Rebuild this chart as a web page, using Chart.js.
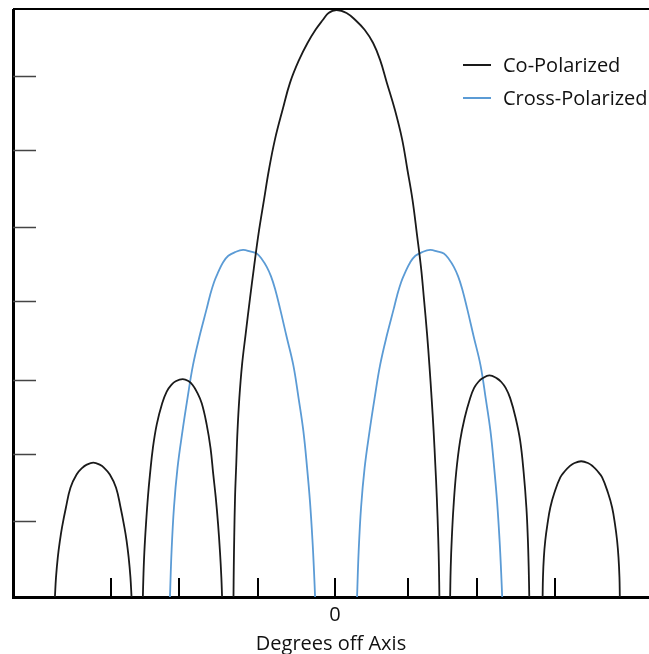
<!DOCTYPE html>
<html>
<head>
<meta charset="utf-8">
<script src="https://cdn.jsdelivr.net/npm/chart.js@4.4.1/dist/chart.umd.min.js"></script>
<style>
    body { margin: 0; background: #fff; }
    #wrap { position: relative; width: 649px; height: 654px; }
    #legend { position: absolute; left: 463px; top: 48px; font: 20px 'Open Sans', sans-serif; color: #111; }
    .legend-item { display: flex; align-items: center; height: 33px; white-space: nowrap; }
    .legend-swatch { width: 28px; height: 2px; margin-right: 12px; }
</style>
</head>
<body>
<div id="wrap">
    <canvas id="pattern-chart"></canvas>
    <div id="legend"></div>
</div>
<script>
// --- Data (degrees off axis, relative level), null = gap between lobes ---
const coDeg = [
    // outer left lobe
    -37.84, -37.69, -37.45, -37.16, -36.88, -36.35, -35.74, -34.91, -34.14, -33.59, -32.66,
    -31.73, -31.19, -30.42, -29.58, -28.97, -28.45, -28.16, -27.88, -27.64, -27.49, null,
    // first side lobe, left
    -25.96, -25.89, -25.76, -25.54, -25.28, -25.00, -24.61, -24.09, -23.35, -22.74, -22.11, -21.53, -20.58,
    -19.77, -19.24, -18.69, -18.01, -17.34, -16.82, -16.45, -16.12, -15.80, -15.54, -15.36, -15.26, null,
    // main lobe
    -13.72, -13.68, -13.62, -13.51, -13.35, -13.18, -12.93, -12.57, -12.07, -11.49, -10.97, -10.34,
    -9.59, -8.92, -8.11, -7.09, -6.08, -4.86, -3.72, -2.64, -1.69, -0.88, 0.20,
    1.55, 2.77, 3.99, 5.14, 6.08, 6.99, 8.08, 9.05, 9.76, 10.45, 11.05,
    11.62, 12.00, 12.42, 12.74, 13.04, 13.31, 13.54, 13.74, 13.93, 14.03, 14.09, null,
    // first side lobe, right
    15.54, 15.62, 15.77, 15.99, 16.36, 16.89, 17.50, 18.24, 18.78, 19.34, 19.91, 20.85,
    21.86, 22.45, 23.04, 23.65, 24.39, 25.00, 25.47, 25.84, 26.03, 26.15, 26.23, null,
    // outer right lobe
    28.03, 28.08, 28.20, 28.39, 28.68, 29.07, 29.62, 30.42, 31.08, 31.66, 32.22, 33.24,
    34.27, 34.82, 35.41, 36.07, 36.86, 37.42, 37.81, 38.09, 38.28, 38.41, 38.46
];
const coLevel = [
    0, 0.27, 0.54, 0.77, 0.95, 1.22, 1.49, 1.67, 1.76, 1.80, 1.83,
    1.80, 1.76, 1.67, 1.49, 1.22, 0.95, 0.77, 0.54, 0.27, 0, null,
    0, 0.27, 0.61, 0.99, 1.36, 1.67, 2.03, 2.35, 2.64, 2.80, 2.89, 2.94, 2.97,
    2.94, 2.89, 2.80, 2.64, 2.35, 2.03, 1.67, 1.36, 0.99, 0.61, 0.27, 0, null,
    0, 0.41, 0.81, 1.36, 1.80, 2.26, 2.71, 3.16, 3.59, 4.07, 4.48, 4.95,
    5.42, 5.83, 6.24, 6.64, 7.01, 7.32, 7.55, 7.73, 7.86, 7.96, 8.0,
    7.96, 7.86, 7.73, 7.55, 7.32, 7.01, 6.64, 6.24, 5.83, 5.42, 4.95,
    4.48, 4.07, 3.59, 3.16, 2.71, 2.26, 1.80, 1.36, 0.81, 0.41, 0, null,
    0, 0.41, 0.81, 1.22, 1.70, 2.13, 2.44, 2.71, 2.85, 2.93, 2.98, 3.02,
    2.98, 2.93, 2.85, 2.71, 2.44, 2.13, 1.70, 1.22, 0.81, 0.41, 0, null,
    0, 0.27, 0.54, 0.77, 0.99, 1.22, 1.42, 1.63, 1.72, 1.78, 1.82, 1.85,
    1.82, 1.78, 1.72, 1.63, 1.42, 1.22, 0.99, 0.77, 0.54, 0.27, 0
];
const crossDeg = [
    -22.30, -22.09, -21.76, -21.28, -20.61, -19.93, -19.19, -18.24, -17.34, -16.89, -16.35, -15.77, -15.14, -14.42, -13.51, -12.43,
    -11.49, -10.58, -9.86, -9.23, -8.65, -8.11, -7.43, -6.55, -5.64, -4.93, -4.28, -3.78, -3.38, -3.04, -2.84, -2.70, null,
    2.97, 3.18, 3.51, 3.99, 4.66, 5.34, 6.08, 7.03, 7.93, 8.38, 8.92, 9.50, 10.14, 10.85, 11.76, 12.84,
    13.78, 14.69, 15.41, 16.04, 16.62, 17.16, 17.84, 18.72, 19.64, 20.34, 20.99, 21.49, 21.89, 22.23, 22.43, 22.57
];
const crossLevel = [
    0, 0.61, 1.22, 1.76, 2.26, 2.71, 3.16, 3.58, 3.93, 4.11, 4.29, 4.43, 4.56, 4.65, 4.70, 4.73,
    4.71, 4.68, 4.60, 4.50, 4.37, 4.20, 3.93, 3.55, 3.16, 2.71, 2.26, 1.76, 1.29, 0.75, 0.34, 0, null,
    0, 0.61, 1.22, 1.76, 2.26, 2.71, 3.16, 3.58, 3.93, 4.11, 4.29, 4.43, 4.56, 4.65, 4.70, 4.73,
    4.71, 4.68, 4.60, 4.50, 4.37, 4.20, 3.93, 3.55, 3.16, 2.71, 2.26, 1.76, 1.29, 0.75, 0.34, 0
];
const xTickValues = [-30.27, -21.08, -10.41, 0, 9.86, 19.19, 29.73];
const yTickValues = [1.03, 1.95, 2.96, 4.04, 5.04, 6.09, 7.1];
const seriesLabels = ['Co-Polarized', 'Cross-Polarized'];

const toPoints = (xs, ys) => xs.map((x, i) => x === null ? { x: NaN, y: null } : { x: x, y: ys[i] });

// ticks drawn inside the plot, plus the top frame line
const insideTicks = {
    id: 'insideTicks',
    afterDraw(chart) {
        const { ctx, chartArea, scales: { x, y } } = chart;
        ctx.save();
        ctx.strokeStyle = '#000';
        ctx.lineWidth = 2;
        ctx.beginPath();
        ctx.moveTo(chartArea.left, chartArea.top - 1);
        ctx.lineTo(chartArea.right, chartArea.top - 1);
        x.ticks.forEach(t => {
            const px = Math.round(x.getPixelForValue(t.value));
            ctx.moveTo(px, chartArea.bottom);
            ctx.lineTo(px, chartArea.bottom - 19);
        });
        ctx.stroke();
        ctx.strokeStyle = '#444';
        ctx.lineWidth = 1.5;
        ctx.beginPath();
        y.ticks.forEach(t => {
            const py = Math.round(y.getPixelForValue(t.value)) + 0.5;
            ctx.moveTo(chartArea.left, py);
            ctx.lineTo(chartArea.left + 23, py);
        });
        ctx.stroke();
        ctx.restore();
    }
};

const fontFamily = "'Open Sans', sans-serif";
const ctx = document.getElementById('pattern-chart').getContext('2d');
const chart = new Chart(ctx, {
    type: 'line',
    data: {
        datasets: [
            {
                label: seriesLabels[0],
                data: toPoints(coDeg, coLevel),
                borderColor: '#1a1a1a',
                borderWidth: 1.8,
            },
            {
                label: seriesLabels[1],
                data: toPoints(crossDeg, crossLevel),
                borderColor: '#5b9bd5',
                borderWidth: 1.8,
            }
        ]
    },
    options: {
        responsive: true,
        maintainAspectRatio: false,
        animation: false,
        layout: { padding: { left: 13, top: 10, right: 0, bottom: 0 } },
        elements: {
            point: { radius: 0 },
            line: { tension: 0.4, fill: false }
        },
        spanGaps: false,
        plugins: {
            legend: { display: false },
            tooltip: { enabled: false }
        },
        scales: {
            x: {
                type: 'linear',
                min: -43.5,
                max: 42.4,
                afterBuildTicks: axis => { axis.ticks = xTickValues.map(v => ({ value: v })); },
                ticks: {
                    autoSkip: false,
                    maxRotation: 0,
                    padding: 8,
                    color: '#111',
                    font: { family: fontFamily, size: 20, lineHeight: 1 },
                    callback: v => (v === 0 ? '0' : '')
                },
                grid: { display: false, drawTicks: false },
                border: { display: true, color: '#000', width: 3 },
                title: {
                    display: true,
                    text: 'Degrees off Axis',
                    color: '#111',
                    font: { family: fontFamily, size: 20, lineHeight: 1 },
                    padding: { top: 1, bottom: 0 }
                }
            },
            y: {
                min: 0,
                max: 8,
                afterBuildTicks: axis => { axis.ticks = yTickValues.map(v => ({ value: v })); },
                ticks: { display: false },
                grid: { display: false, drawTicks: false },
                border: { display: true, color: '#000', width: 3 }
            }
        }
    },
    plugins: [insideTicks]
});

// --- HTML legend built from the datasets ---
const legendEl = document.getElementById('legend');
chart.data.datasets.forEach(ds => {
    const item = document.createElement('div');
    item.className = 'legend-item';
    const swatch = document.createElement('span');
    swatch.className = 'legend-swatch';
    swatch.style.background = ds.borderColor;
    const text = document.createElement('span');
    text.textContent = ds.label;
    item.appendChild(swatch);
    item.appendChild(text);
    legendEl.appendChild(item);
});
</script>
</body>
</html>
